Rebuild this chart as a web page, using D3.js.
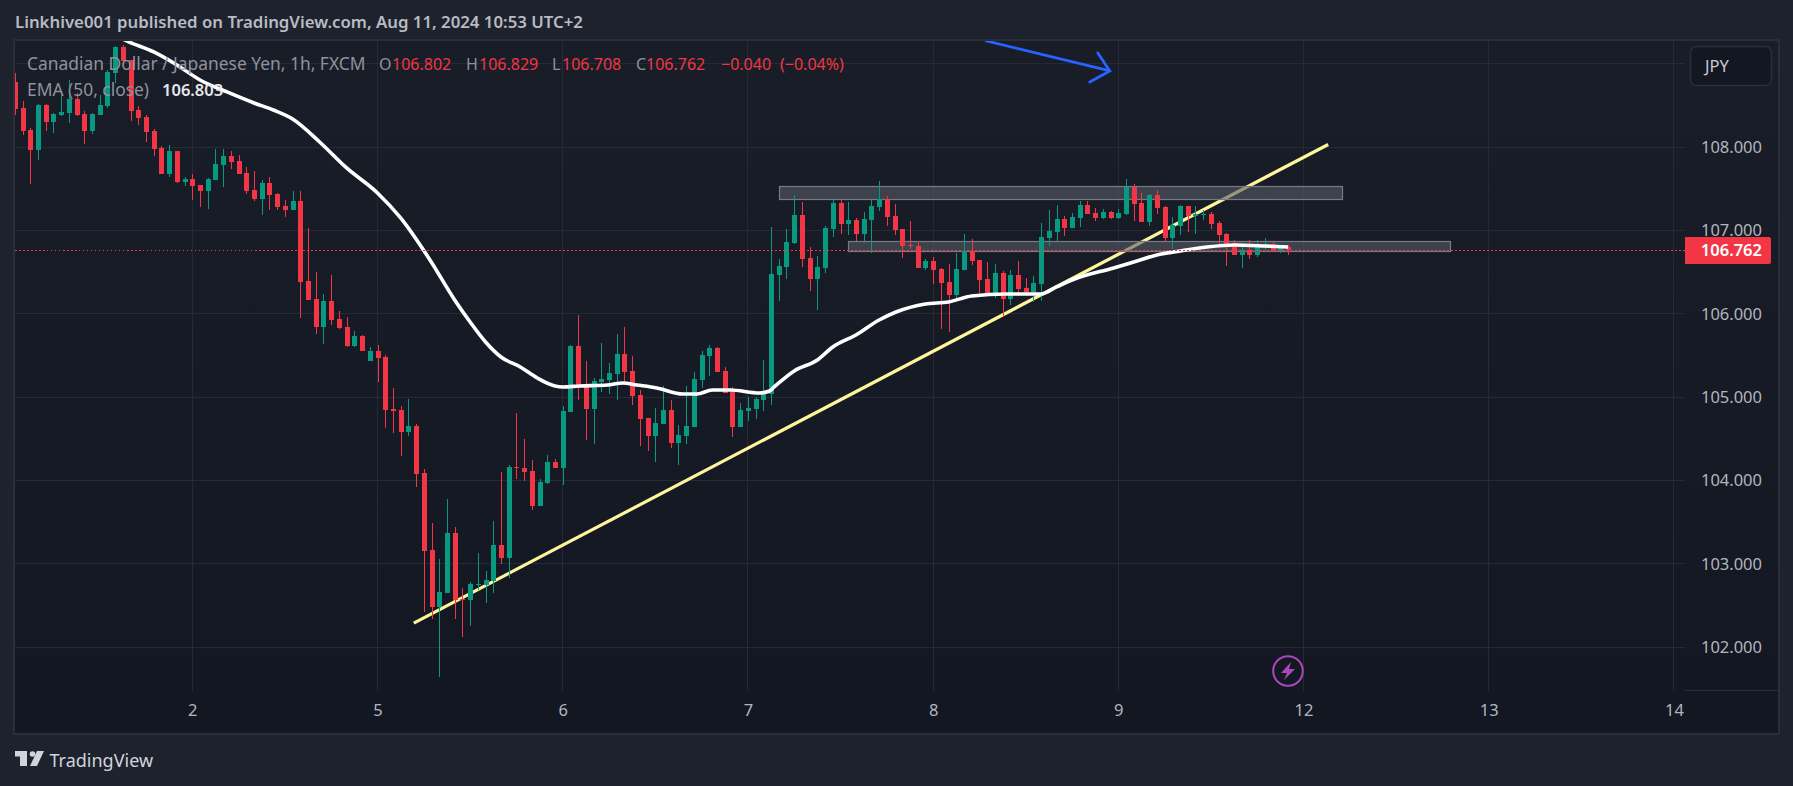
<!DOCTYPE html>
<html><head><meta charset="utf-8">
<script src="https://cdn.jsdelivr.net/npm/d3@7"></script>
<style>
html,body{margin:0;padding:0;background:#1e222d;overflow:hidden}
svg{display:block}
text{font-family:"Noto Sans","Open Sans",sans-serif}
</style></head><body><svg id="c" width="1793" height="786"></svg>
<script>
const opens=[108.784,108.472,108.208,107.968,108.508,108.304,108.388,108.412,108.58,108.4,108.196,108.388,108.496,108.892,109.204,109.048,108.448,108.364,108.196,107.992,107.68,107.956,107.584,107.62,107.548,107.476,107.608,107.788,107.896,107.836,107.692,107.488,107.38,107.572,107.44,107.296,107.248,107.356,106.396,106.18,105.844,106.156,105.94,105.844,105.616,105.736,105.436,105.556,105.484,104.86,104.848,104.584,104.656,104.092,103.168,102.484,102.652,103.372,102.58,102.568,102.748,102.748,102.796,103.228,103.072,104.164,104.152,104.116,103.696,103.972,104.224,104.152,104.824,105.616,105.136,104.86,105.184,105.208,105.28,105.52,105.316,105.028,104.752,104.536,104.68,104.848,104.452,104.536,104.644,105.208,105.496,105.592,105.316,105.064,104.644,104.836,104.86,104.968,105.04,106.468,106.564,106.852,107.188,106.672,106.42,106.552,107.02,107.332,107.08,107.128,106.96,107.128,107.284,107.38,107.176,107.02,106.828,106.816,106.552,106.636,106.54,106.384,106.228,106.528,106.756,106.648,106.42,106.24,106.492,106.18,106.468,106.312,106.264,106.36,106.912,106.984,107.14,107.032,107.152,107.308,107.212,107.152,107.224,107.152,107.2,107.524,107.332,107.104,107.428,107.284,106.912,107.056,107.296,107.176,107.194,107.2,107.092,106.96,106.852,106.708,106.768,106.708,106.804,106.84,106.756,106.802];
const highs=[108.892,108.556,108.232,108.52,108.52,108.412,108.64,108.808,108.652,108.436,108.412,108.628,108.928,109.216,109.228,109.048,108.496,108.388,108.22,108.016,108.028,107.956,107.644,107.68,107.548,107.632,107.98,107.98,107.956,107.908,107.764,107.716,107.608,107.644,107.452,107.368,107.476,107.476,107.032,106.504,106.24,106.468,106.036,105.964,105.796,105.748,105.604,105.628,105.508,105.112,104.896,104.98,104.68,104.14,103.492,103.06,103.78,103.444,102.712,102.784,103.132,102.916,103.516,104.104,104.188,104.812,104.5,104.248,104.02,104.308,104.26,104.896,105.628,105.988,105.436,105.232,105.652,105.412,105.76,105.844,105.496,105.088,104.752,104.872,105.136,104.968,104.668,105.136,105.304,105.556,105.628,105.604,105.364,105.124,104.932,105.004,105.004,105.448,107.044,106.66,107.02,107.428,107.344,106.804,106.696,107.056,107.368,107.368,107.344,107.152,107.224,107.368,107.596,107.416,107.32,107.02,107.116,106.876,106.66,106.684,106.552,106.6,106.732,106.96,106.9,106.648,106.624,106.6,106.516,106.528,106.636,106.432,106.456,107.092,107.248,107.308,107.176,107.212,107.356,107.356,107.272,107.26,107.236,107.26,107.62,107.56,107.452,107.44,107.488,107.296,107.164,107.308,107.296,107.296,107.248,107.224,107.116,106.972,106.888,106.816,106.888,106.888,106.912,106.864,106.828,106.829];
const lows=[108.388,108.148,107.56,107.848,108.196,108.172,108.376,108.292,108.376,108.04,108.16,108.388,108.472,108.772,109.036,108.316,108.268,108.064,107.896,107.68,107.644,107.572,107.536,107.368,107.284,107.26,107.608,107.524,107.74,107.68,107.44,107.356,107.188,107.248,107.248,107.164,107.248,105.952,106.168,105.76,105.64,105.868,105.82,105.604,105.604,105.556,105.436,105.184,104.632,104.572,104.296,104.536,103.924,102.424,102.34,101.644,102.652,102.34,102.124,102.256,102.688,102.532,102.652,103.0,102.832,104.02,103.996,103.648,103.696,103.96,104.152,103.948,104.824,104.968,104.488,104.44,105.064,105.04,104.968,105.172,104.908,104.42,104.356,104.224,104.68,104.392,104.188,104.44,104.644,105.112,105.256,105.304,105.052,104.524,104.644,104.716,104.74,104.836,104.908,106.156,106.42,106.84,106.564,106.276,106.048,106.492,106.924,106.96,106.948,106.876,106.876,106.732,107.236,107.056,106.948,106.672,106.78,106.552,106.528,106.36,105.82,105.784,106.192,106.528,106.588,106.252,106.24,106.192,105.964,106.108,106.216,106.216,106.144,106.156,106.816,106.876,106.936,107.032,107.044,107.2,107.116,107.14,107.14,107.14,107.188,107.116,107.104,107.056,107.2,106.864,106.78,106.948,106.984,106.96,107.128,107.02,106.816,106.576,106.708,106.552,106.66,106.684,106.768,106.744,106.732,106.708];
const closes=[108.46,108.196,107.968,108.508,108.304,108.4,108.424,108.58,108.388,108.196,108.4,108.508,108.904,109.204,109.036,108.436,108.352,108.184,107.98,107.68,107.956,107.584,107.62,107.536,107.476,107.62,107.8,107.896,107.824,107.68,107.476,107.38,107.572,107.428,107.284,107.248,107.356,106.384,106.168,105.844,106.156,105.928,105.832,105.616,105.736,105.556,105.556,105.472,104.848,104.836,104.584,104.656,104.08,103.156,102.484,102.664,103.372,102.568,102.568,102.76,102.76,102.808,103.228,103.072,104.164,104.152,104.104,103.696,103.984,104.224,104.152,104.836,105.616,105.124,104.86,105.196,105.22,105.292,105.52,105.304,105.016,104.74,104.536,104.692,104.848,104.452,104.548,104.656,105.22,105.508,105.592,105.304,105.052,104.644,104.848,104.872,104.98,105.052,106.48,106.576,106.864,107.188,106.66,106.42,106.564,107.032,107.332,107.08,107.128,106.96,107.14,107.296,107.38,107.164,107.008,106.816,106.816,106.552,106.636,106.528,106.372,106.228,106.54,106.756,106.636,106.408,106.24,106.492,106.18,106.468,106.3,106.264,106.372,106.924,106.996,107.14,107.032,107.164,107.308,107.2,107.152,107.224,107.152,107.212,107.524,107.32,107.104,107.428,107.272,106.912,107.068,107.296,107.176,107.2,107.2,107.08,106.948,106.84,106.708,106.768,106.708,106.816,106.84,106.756,106.804,106.762];
// EMA (50, close): values
const emaBars=[12.5,14.5,18,21,24,27.5,31,33.5,36,39.5,43,47,50,53.8,57,59,61,63,65.5,67.7,70,71,73.2,76.8,78.8,80.6,83.2,86.6,88.4,90.4,92.7,96.5,97.8,98.4,101,104,106,109,112,114.2,118,121,124,128.5,133,135,137,142.4,145,148,151,154.5,158,162,165];
const emaValues=[109.372,109.276,109.144,108.988,108.808,108.664,108.532,108.448,108.34,108.064,107.752,107.452,107.152,106.648,106.168,105.904,105.664,105.484,105.364,105.232,105.136,105.124,105.136,105.148,105.172,105.148,105.112,105.04,105.04,105.088,105.088,105.052,105.076,105.124,105.316,105.448,105.604,105.748,105.928,106.024,106.12,106.144,106.216,106.24,106.24,106.324,106.408,106.552,106.624,106.708,106.756,106.804,106.828,106.816,106.803];
const priceTicks=[108,107,106,105,104,103,102];
const gridPrices=[109,108,107,106,105,104,103,102];
const dayBars=[23,47,71,95,119,143,167,191,215];
const dayLabels=["2","5","6","7","8","9","12","13","14"];
const trendBars=[51.7,170.2], trendPrices=[102.29,108.034];
const zoneBars=[[99.0,172.0],[108.0,186.0]];
const zonePrices=[[107.532,107.372],[106.876,106.762]];
const arrowBars=[125.9,141.9], arrowPrices=[109.276,108.916];
const lastPrice=106.762;

const GREEN="#089981",RED="#f23645";
const L=15,R=1778,T=41,B=733,AX=1685,TY=690.5;
const x=d3.scaleLinear().domain([23,143]).range([192.3,1118.3]);
const y=d3.scaleLinear().domain([108,102]).range([147.3,647.3]);
const svg=d3.select("#c");
const defs=svg.append("defs");
const g=defs.append("linearGradient").attr("id","pane").attr("x1",0).attr("x2",0).attr("y1",0).attr("y2",1);
g.append("stop").attr("offset",0).attr("stop-color","#191d28");
g.append("stop").attr("offset",1).attr("stop-color","#131722");
defs.append("clipPath").attr("id","clip").append("rect").attr("x",L).attr("y",T).attr("width",AX-L).attr("height",TY-T);

svg.append("rect").attr("x",L-1).attr("y",T-1).attr("width",R-L+2).attr("height",B-T+2)
  .attr("fill","url(#pane)").attr("stroke","#2a2e39").attr("stroke-width",2);
svg.append("line").attr("x1",AX).attr("x2",R).attr("y1",TY).attr("y2",TY).attr("stroke","#2a2e39");

// grid
const grid=svg.append("g").attr("shape-rendering","crispEdges").attr("stroke","#262a35");
grid.selectAll(".h").data(gridPrices).join("line").attr("x1",L).attr("x2",AX).attr("y1",d=>y(d)).attr("y2",d=>y(d));
grid.selectAll(".v").data(dayBars).join("line").attr("y1",T).attr("y2",TY).attr("x1",d=>x(d)).attr("x2",d=>x(d));

const chart=svg.append("g").attr("clip-path","url(#clip)");
// trendline
chart.append("line").attr("x1",x(trendBars[0])).attr("y1",y(trendPrices[0])).attr("x2",x(trendBars[1])).attr("y2",y(trendPrices[1]))
  .attr("stroke","#fff59d").attr("stroke-width",3.2);
// zones
chart.selectAll(".zone").data(zoneBars).join("rect")
  .attr("x",d=>Math.round(x(d[0]))+.5).attr("width",d=>Math.round(x(d[1])-x(d[0])))
  .attr("y",(d,i)=>Math.round(y(zonePrices[i][0]))+.5).attr("height",(d,i)=>Math.round(y(zonePrices[i][1])-y(zonePrices[i][0])))
  .attr("fill","rgba(87,91,102,.6)").attr("stroke","#787b86").attr("stroke-width",1.2);
// candles
const idx=d3.range(opens.length);
const col=i=>closes[i]>opens[i]?GREEN:RED;
const cs=chart.append("g").attr("shape-rendering","crispEdges");
cs.selectAll(".w").data(idx).join("rect").attr("x",i=>Math.round(x(i))).attr("width",1)
  .attr("y",i=>y(highs[i])).attr("height",i=>y(lows[i])-y(highs[i])).attr("fill",col);
cs.selectAll(".b").data(idx).join("rect").attr("x",i=>Math.round(x(i))-2).attr("width",5)
  .attr("y",i=>y(Math.max(opens[i],closes[i])))
  .attr("height",i=>Math.max(1,Math.abs(y(opens[i])-y(closes[i])))).attr("fill",col);
// EMA
chart.append("path").attr("d",d3.line().curve(d3.curveMonotoneX).x((d,i)=>x(emaBars[i])).y(d=>y(d))(emaValues))
  .attr("fill","none").attr("stroke","#ffffff").attr("stroke-width",3.6).attr("stroke-linejoin","round");
// last price line
svg.append("line").attr("x1",L).attr("x2",AX).attr("y1",y(lastPrice)).attr("y2",y(lastPrice))
  .attr("stroke",RED).attr("stroke-dasharray","1.5 2.5").attr("stroke-width",1).attr("shape-rendering","crispEdges");
// arrow
const ax2=x(arrowBars[1]),ay2=y(arrowPrices[1]);
chart.append("path").attr("d",`M${x(arrowBars[0])},${y(arrowPrices[0])}L${ax2},${ay2}M${ax2-12},${ay2-18}L${ax2},${ay2}L${ax2-20},${ay2+11}`)
  .attr("fill","none").attr("stroke","#2962ff").attr("stroke-width",2.8).attr("stroke-linecap","round");

// axes
const py=svg.append("g").attr("transform","translate(1762,0)")
  .call(d3.axisLeft(y).tickValues(priceTicks).tickFormat(d3.format(".3f")).tickSize(0).tickPadding(0));
py.select(".domain").remove();
py.selectAll("text").attr("fill","#b2b5be").attr("font-size",16.5).attr("font-family",'"Noto Sans"');
const xIdx=d3.axisBottom(x).tickValues(dayBars).tickFormat((d,i)=>dayLabels[i]).tickSize(0).tickPadding(0);
const px=svg.append("g").attr("transform","translate(0,704)").call(xIdx);
px.select(".domain").remove();
px.selectAll("text").attr("fill","#b2b5be").attr("font-size",16.5).attr("font-family",'"Noto Sans"');

// last price label
svg.append("path").attr("d",`M${AX},${y(lastPrice)-13.5}H1769a2,2 0 0 1 2,2V${y(lastPrice)+11.5}a2,2 0 0 1 -2,2H${AX}Z`).attr("fill",RED);
svg.append("text").attr("x",1762).attr("y",y(lastPrice)+6).attr("text-anchor","end").attr("fill","#fff")
  .attr("font-size",16.5).attr("font-weight",600).text(d3.format(".3f")(lastPrice));
// JPY button
svg.append("rect").attr("x",1690.5).attr("y",46.5).attr("width",81).attr("height",39).attr("rx",6)
  .attr("fill","#131722").attr("stroke","#2a2e39").attr("stroke-width",1.5);
svg.append("text").attr("x",1705).attr("y",71.5).attr("fill","#c8cad1").attr("font-size",16.5).text("JPY");

// title & legend
svg.append("text").attr("x",15).attr("y",28).attr("fill","#b8bbc4").attr("font-size",16.8).attr("font-weight",600)
  .text("Linkhive001 published on TradingView.com, Aug 11, 2024 10:53 UTC+2");
const leg=[["O",379,"#8f929c",16],["106.802",392,RED,16],["H",466,"#8f929c",16],["106.829",479,RED,16],["L",552,"#8f929c",16],["106.708",562,RED,16],["C",636,"#8f929c",16],["106.762",646,RED,16],["\u22120.040",721,RED,16],["(\u22120.04%)",780,RED,16],["Canadian Dollar / Japanese Yen, 1h, FXCM",27,"#8f929c",17.4]];
svg.selectAll(".leg").data(leg).join("text").attr("x",d=>d[1]).attr("y",70).attr("fill",d=>d[2]).attr("font-size",d=>d[3]).text(d=>d[0]);
svg.append("text").attr("x",27).attr("y",96).attr("fill","#8f929c").attr("font-size",17.4).text("EMA (50, close)");
svg.append("text").attr("x",162).attr("y",96).attr("fill","#e6e7ea").attr("font-size",16.5).attr("font-weight",600).text("106.803");

// lightning icon
const ic=svg.append("g").attr("transform","translate(1288,671)");
ic.append("circle").attr("r",14.8).attr("fill","none").attr("stroke","#ab47bc").attr("stroke-width",2);
ic.append("path").attr("d","M3,-9L-7,2H-1L-4,9L7,-2H1Z").attr("fill","#ab47bc");

// logo
const lg=svg.append("g").attr("fill","#d1d4dc");
lg.append("path").attr("d","M15,751H27V766H20V756.5H15Z");
lg.append("circle").attr("cx",32.5).attr("cy",754).attr("r",2.8);
lg.append("path").attr("d","M37,751H44L37,766H30Z");
lg.append("text").attr("x",49.5).attr("y",767).attr("font-size",18).text("TradingView");
</script></body></html>
